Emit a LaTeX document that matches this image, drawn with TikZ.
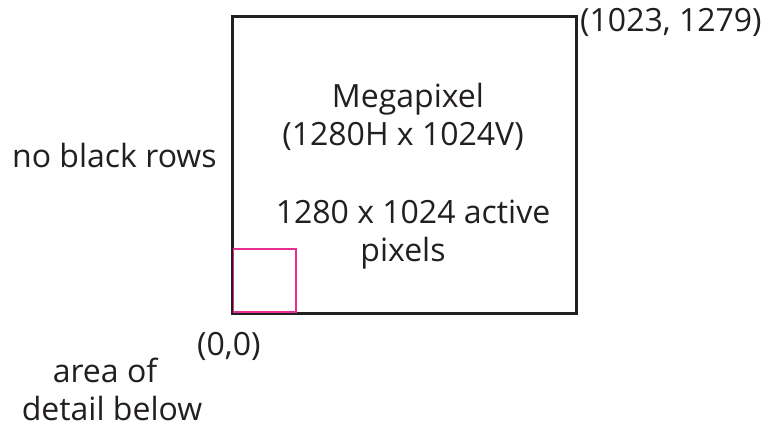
\documentclass[tikz,border=0pt]{standalone}
\usepackage{fontspec}
\setmainfont{Open Sans}
\usetikzlibrary{positioning}
\definecolor{frameGray}{RGB}{35,31,32}
\definecolor{areaPink}{RGB}{233,45,145}
\tikzset{
  lbl/.style={font=\fontsize{32}{38}\selectfont, text=frameGray, inner sep=0pt, anchor=base},
  lblw/.style={lbl, anchor=base west}
}

\begin{document}
\begin{tikzpicture}[x=1pt,y=-1pt]
  \useasboundingbox (0,0) rectangle (775,428);
  % sensor outline and detail area
  \draw[frameGray, line width=3pt] (232,17) rectangle (576,313);
  \draw[areaPink, line width=1.8pt] (233.5,249) rectangle (296,312);
  % labels
  \node[lblw] (corner) at (580,32) {(1023, 1279)};
  \node[lbl] (title) at (408,107) {Megapixel};
  \node[lbl] (res) at (403,145) {(1280H x 1024V)};
  \node[lbl] (active) at (413,223) {1280 x 1024 active};
  \node[lbl] (pix) at (403,261) {pixels};
  \node[lblw] (rows) at (12,167) {no black rows};
  \node[lblw] (origin) at (197,355) {(0,0)};
  \node[lbl] (area) at (105,382) {area of};
  \node[lbl] (below) at (112,420) {detail below};
\end{tikzpicture}
\end{document}
